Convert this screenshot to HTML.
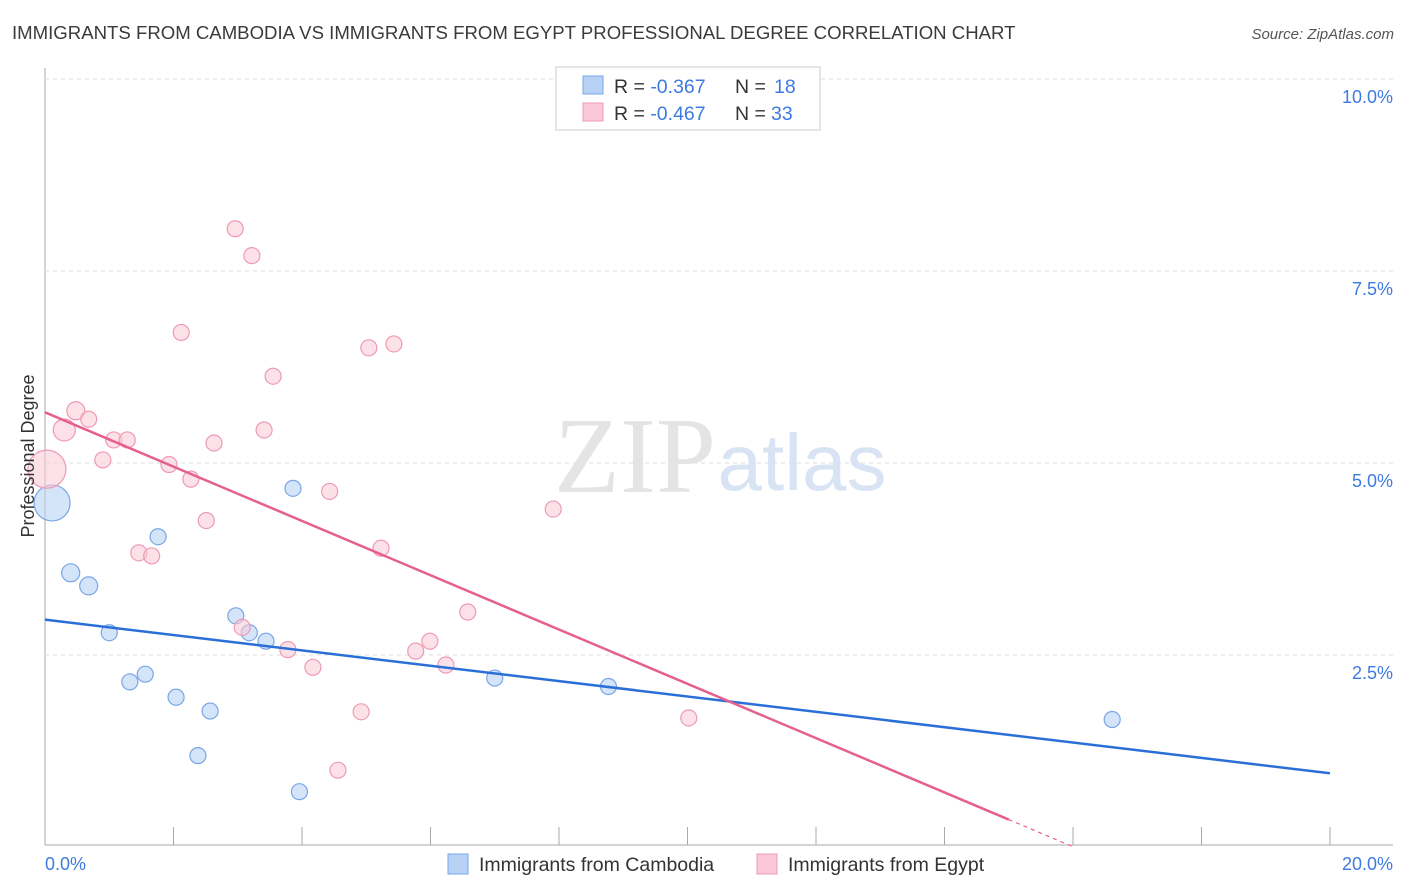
<!DOCTYPE html>
<html><head><meta charset="utf-8"><style>
body{margin:0;background:#fff;font-family:"Liberation Sans",sans-serif;}
svg{display:block}
</style></head><body>
<svg width="1406" height="892">
<text x="12" y="39" font-size="18.6" fill="#3a3a3a">IMMIGRANTS FROM CAMBODIA VS IMMIGRANTS FROM EGYPT PROFESSIONAL DEGREE CORRELATION CHART</text>
<text x="1394" y="39" font-size="15" fill="#555" font-style="italic" text-anchor="end">Source: ZipAtlas.com</text>
<g id="grid"></g>
<text x="635" y="492" font-size="108" fill="#e4e4e4" font-family="Liberation Serif,serif" text-anchor="middle">ZIP</text>
<text x="802" y="490" font-size="80" fill="#d8e4f4" text-anchor="middle">atlas</text>
<g id="pts"></g>
<g id="lines"></g>
<text transform="translate(34,456) rotate(-90)" font-size="18" fill="#333" text-anchor="middle">Professional Degree</text>
<text x="45" y="870" font-size="18" fill="#3d7be0">0.0%</text>
<text x="1393" y="870" font-size="18" fill="#3d7be0" text-anchor="end">20.0%</text>
<g>
<rect x="556" y="67" width="264" height="63" fill="#fff" stroke="#ccc"/>
<rect x="583" y="76" width="20" height="18" fill="#b8d2f5" stroke="#7aa6e6"/>
<rect x="583" y="103" width="20" height="18" fill="#fbc8d7" stroke="#ee9ab3"/>
<text x="614" y="93" font-size="19.5" fill="#333">R = <tspan fill="#3d7be0">-0.367</tspan><tspan x="735">N = </tspan><tspan fill="#3d7be0" x="774">18</tspan></text>
<text x="614" y="120" font-size="19.5" fill="#333">R = <tspan fill="#3d7be0">-0.467</tspan><tspan x="735">N = </tspan><tspan fill="#3d7be0" x="771">33</tspan></text>
</g>
<g>
<rect x="448" y="854" width="20" height="20" fill="#b8d2f5" stroke="#7aa6e6"/>
<text x="479" y="871" font-size="19.5" fill="#333">Immigrants from Cambodia</text>
<rect x="757" y="854" width="20" height="20" fill="#fbc8d7" stroke="#ee9ab3"/>
<text x="788" y="871" font-size="19.5" fill="#333">Immigrants from Egypt</text>
</g>
</svg>
<script>
const yTicks=[2.5,5.0,7.5,10.0];
const xTicks=[0,2,4,6,8,10,12,14,16,18,20];
const cambX=[0.11,0.4,0.68,1.0,1.32,1.56,1.76,2.04,2.38,2.57,2.97,3.18,3.44,3.86,3.96,7.0,8.77,16.61];
const cambY=[4.48,3.57,3.4,2.79,2.15,2.25,4.04,1.95,1.19,1.77,3.01,2.79,2.68,4.67,0.72,2.2,2.09,1.66];
const cambR=[18,9,9,8,8,8,8,8,8,8,8,8,8,8,8,8,8,8];
const egX=[0.03,0.3,0.48,0.68,1.07,1.28,0.9,1.46,1.66,1.93,2.12,2.27,2.51,2.63,2.96,3.22,3.07,3.41,3.55,3.78,4.17,4.43,4.56,4.92,5.04,5.23,5.43,5.77,5.99,6.24,6.58,7.91,10.02];
const egY=[4.92,5.43,5.68,5.57,5.3,5.3,5.04,3.83,3.79,4.98,6.7,4.79,4.25,5.26,8.05,7.7,2.86,5.43,6.13,2.57,2.34,4.63,1.0,1.76,6.5,3.89,6.55,2.55,2.68,2.37,3.06,4.4,1.68];
const egR=[19,11,9,8,8,8,8,8,8,8,8,8,8,8,8,8,8,8,8,8,8,8,8,8,8,8,8,8,8,8,8,8,8];
const cambLine=[2.96,0.96];
const egLine=[5.66,0.0];
const NS='http://www.w3.org/2000/svg';
const sx=v=>45+v/20*1285, sy=v=>847-v*76.8;
function mk(t,a,p){const e=document.createElementNS(NS,t);for(const k in a)e.setAttribute(k,a[k]);p.appendChild(e);return e;}
const grid=document.getElementById('grid'),pts=document.getElementById('pts'),lines=document.getElementById('lines');
let ax=mk('line',{x1:45,y1:68,x2:45,y2:845,stroke:'#aaa'},grid);


let bx=mk('line',{x1:45,y1:845,x2:1393,y2:845,stroke:'#aaa'},grid);


yTicks.forEach(t=>{
 const g=mk('line',{x1:45,y1:sy(t),x2:1393,y2:sy(t),stroke:'#ddd','stroke-dasharray':'4,4'},grid);
 
 
 const tx=mk('text',{x:1393,y:sy(t)+24,'font-size':18,fill:'#3d7be0','text-anchor':'end'},grid);
 tx.textContent=t.toFixed(1)+'%';
 
 
});
xTicks.forEach(t=>{
 const l=mk('line',{x1:sx(t),y1:827,x2:sx(t),y2:845,stroke:'#aaa'},grid);
 
 
});
function dots(X,Y,R,fill,stroke,name){X.forEach((x,i)=>{
 const c=mk('circle',{cx:sx(x),cy:sy(Y[i]),r:R[i],fill:fill,stroke:stroke,'stroke-width':1.2},pts);
 
 
});}
dots(cambX,cambY,cambR,'rgba(184,210,245,0.6)','#7aa6e6','cambodia-point');
dots(egX,egY,egR,'rgba(251,200,215,0.55)','#ee9ab3','egypt-point');
const bl=mk('line',{x1:sx(0),y1:sy(cambLine[0]),x2:sx(20),y2:sy(cambLine[1]),stroke:'#2a6fd8','stroke-width':2.5},lines);


const xEnd=16.01, xSolid=15.0;
const slope=(egLine[1]-egLine[0])/xEnd;
const pl=mk('line',{x1:sx(0),y1:sy(egLine[0]),x2:sx(xSolid),y2:sy(egLine[0]+slope*xSolid),stroke:'#e5608d','stroke-width':2.5},lines);


const pd=mk('line',{x1:sx(xSolid),y1:sy(egLine[0]+slope*xSolid),x2:sx(xEnd),y2:sy(egLine[1]),stroke:'#e5608d','stroke-width':1.2,'stroke-dasharray':'4,4'},lines);


</script>
</body></html>
